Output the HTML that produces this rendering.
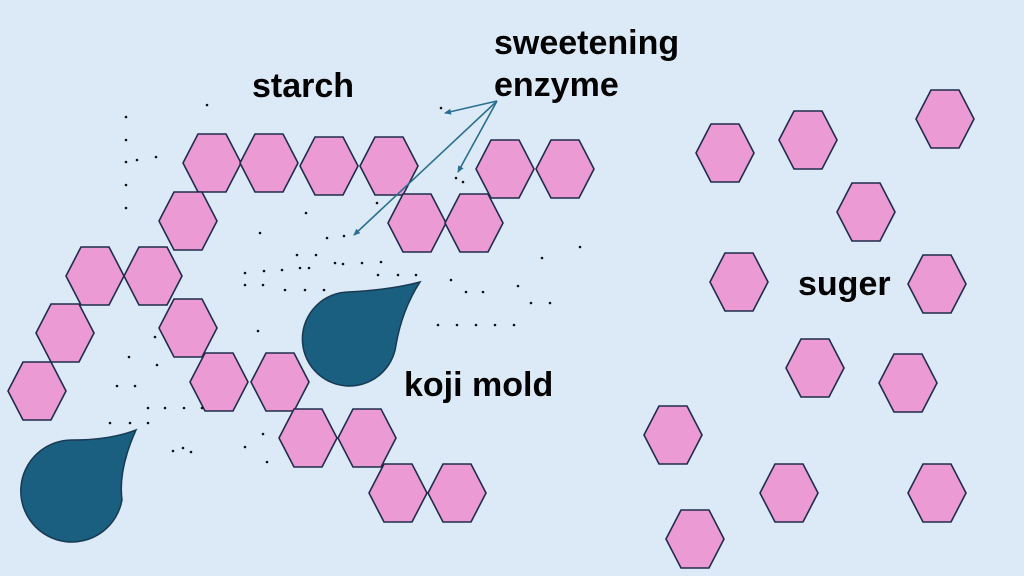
<!DOCTYPE html>
<html><head><meta charset="utf-8"><style>
html,body{margin:0;padding:0;background:#dce9f6;}
svg{display:block;}
text{font-family:"Liberation Sans","Noto Sans CJK JP",sans-serif;font-weight:bold;fill:#000;font-size:34px;}
</style></head><body>
<svg width="1024" height="576" viewBox="0 0 1024 576" xmlns="http://www.w3.org/2000/svg">
<rect width="1024" height="576" fill="#dce9f6"/>
<defs>
<polygon id="h" points="-29,0 -14,-29 14,-29 29,0 14,29 -14,29" fill="#ec9ad3" stroke="#1f2d4d" stroke-width="1.6"/>
<marker id="a" markerWidth="8" markerHeight="8" refX="6" refY="3" orient="auto" markerUnits="userSpaceOnUse"><path d="M0,0 L7,3 L0,6 z" fill="#2a6f8f"/></marker>
</defs>
<g>
<use href="#h" x="212" y="163"/><use href="#h" x="269" y="163"/><use href="#h" x="329" y="166"/><use href="#h" x="389" y="166"/>
<use href="#h" x="505" y="169"/><use href="#h" x="565" y="169"/>
<use href="#h" x="188" y="221"/><use href="#h" x="417" y="223"/><use href="#h" x="474" y="223"/>
<use href="#h" x="95" y="276"/><use href="#h" x="153" y="276"/>
<use href="#h" x="65" y="333"/><use href="#h" x="188" y="328"/>
<use href="#h" x="37" y="391"/><use href="#h" x="219" y="382"/><use href="#h" x="280" y="382"/>
<use href="#h" x="308" y="438"/><use href="#h" x="367" y="438"/>
<use href="#h" x="398" y="493"/><use href="#h" x="457" y="493"/>
<use href="#h" x="725" y="153"/><use href="#h" x="808" y="140"/><use href="#h" x="945" y="119"/>
<use href="#h" x="866" y="212"/><use href="#h" x="739" y="282"/><use href="#h" x="937" y="284"/>
<use href="#h" x="815" y="368"/><use href="#h" x="908" y="383"/><use href="#h" x="673" y="435"/>
<use href="#h" x="789" y="493"/><use href="#h" x="937" y="493"/><use href="#h" x="695" y="539"/>
</g>
<g fill="#1a5e80" stroke="#173a52" stroke-width="1.5">
<path d="M420,282 Q390,290 348,292 A47,47 0 1 0 396,345 Q402,310 420,282 Z"/>
<path d="M136,430 Q110,440 73,440 A51,51 0 1 0 122,500 Q118,470 136,430 Z"/>
</g>
<g fill="#111">
<circle cx="207" cy="105" r="1.3"/><circle cx="126" cy="117" r="1.3"/><circle cx="126" cy="140" r="1.3"/><circle cx="126" cy="162" r="1.3"/><circle cx="137" cy="160" r="1.3"/><circle cx="156" cy="157" r="1.3"/><circle cx="126" cy="185" r="1.3"/><circle cx="126" cy="208" r="1.3"/><circle cx="441" cy="108" r="1.3"/><circle cx="456" cy="178" r="1.3"/><circle cx="463" cy="182" r="1.3"/><circle cx="306" cy="213" r="1.3"/><circle cx="260" cy="233" r="1.3"/><circle cx="327" cy="238" r="1.3"/><circle cx="344" cy="236" r="1.3"/><circle cx="377" cy="203" r="1.3"/><circle cx="580" cy="247" r="1.3"/><circle cx="542" cy="258" r="1.3"/><circle cx="297" cy="255" r="1.3"/><circle cx="316" cy="255" r="1.3"/><circle cx="335" cy="263" r="1.3"/><circle cx="343" cy="264" r="1.3"/><circle cx="362" cy="263" r="1.3"/><circle cx="381" cy="262" r="1.3"/><circle cx="245" cy="273" r="1.3"/><circle cx="264" cy="271" r="1.3"/><circle cx="282" cy="270" r="1.3"/><circle cx="300" cy="268" r="1.3"/><circle cx="309" cy="268" r="1.3"/><circle cx="378" cy="275" r="1.3"/><circle cx="398" cy="275" r="1.3"/><circle cx="416" cy="275" r="1.3"/><circle cx="451" cy="280" r="1.3"/><circle cx="466" cy="292" r="1.3"/><circle cx="483" cy="292" r="1.3"/><circle cx="518" cy="286" r="1.3"/><circle cx="531" cy="303" r="1.3"/><circle cx="550" cy="303" r="1.3"/><circle cx="245" cy="285" r="1.3"/><circle cx="263" cy="285" r="1.3"/><circle cx="285" cy="290" r="1.3"/><circle cx="305" cy="290" r="1.3"/><circle cx="324" cy="290" r="1.3"/><circle cx="438" cy="325" r="1.3"/><circle cx="457" cy="325" r="1.3"/><circle cx="476" cy="325" r="1.3"/><circle cx="495" cy="325" r="1.3"/><circle cx="514" cy="325" r="1.3"/><circle cx="258" cy="331" r="1.3"/><circle cx="155" cy="337" r="1.3"/><circle cx="129" cy="357" r="1.3"/><circle cx="157" cy="365" r="1.3"/><circle cx="117" cy="386" r="1.3"/><circle cx="135" cy="386" r="1.3"/><circle cx="148" cy="408" r="1.3"/><circle cx="165" cy="408" r="1.3"/><circle cx="184" cy="408" r="1.3"/><circle cx="202" cy="408" r="1.3"/><circle cx="110" cy="423" r="1.3"/><circle cx="130" cy="423" r="1.3"/><circle cx="148" cy="423" r="1.3"/><circle cx="173" cy="451" r="1.3"/><circle cx="183" cy="448" r="1.3"/><circle cx="191" cy="452" r="1.3"/><circle cx="245" cy="447" r="1.3"/><circle cx="263" cy="434" r="1.3"/><circle cx="267" cy="462" r="1.3"/>
</g>
<g stroke="#2a6f8f" stroke-width="1.6" fill="none" marker-end="url(#a)">
<line x1="497" y1="101" x2="445" y2="113"/>
<line x1="497" y1="101" x2="458" y2="172"/>
<line x1="497" y1="101" x2="354" y2="235"/>
</g>
<text x="252" y="97">starch</text>
<text x="494" y="54">sweetening</text>
<text x="494" y="96">enzyme</text>
<text x="404" y="396">koji mold</text>
<text x="798" y="295">suger</text>
</svg>
</body></html>
